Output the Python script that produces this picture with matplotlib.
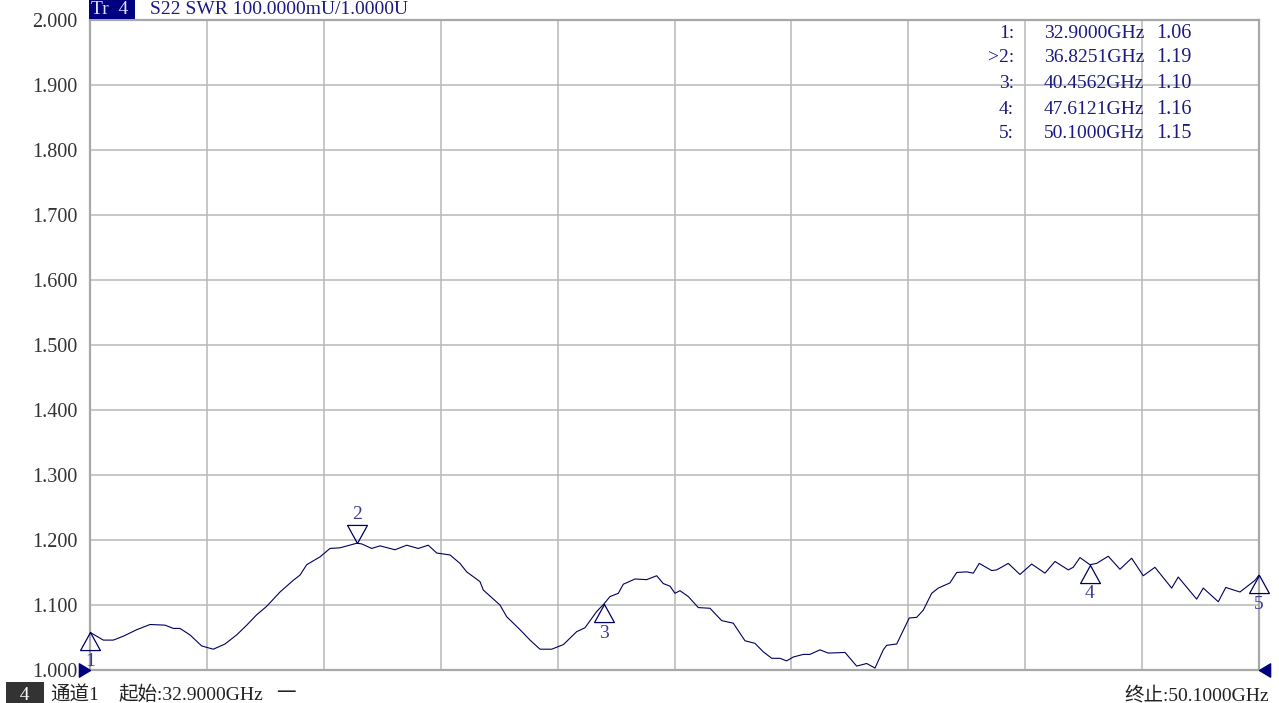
import numpy as np
import matplotlib
matplotlib.use("Agg")
import matplotlib.pyplot as plt
from matplotlib.path import Path

# trace
freq_ghz = [32.900, 33.096, 33.243, 33.390, 33.587, 33.783, 34.003, 34.126, 34.224, 34.371,
            34.543, 34.714, 34.886, 35.058, 35.206, 35.353, 35.500, 35.696, 35.891, 35.990,
            36.088, 36.284, 36.431, 36.578, 36.825, 36.898, 37.045, 37.167, 37.388, 37.560,
            37.730, 37.877, 38.001, 38.197, 38.344, 38.442, 38.638, 38.687, 38.932, 39.031,
            39.227, 39.374, 39.521, 39.693, 39.864, 40.061, 40.183, 40.355, 40.456, 40.551,
            40.673, 40.747, 40.919, 41.091, 41.238, 41.335, 41.434, 41.507, 41.581, 41.703,
            41.850, 42.022, 42.194, 42.365, 42.537, 42.684, 42.806, 42.930, 43.052, 43.150,
            43.248, 43.395, 43.493, 43.640, 43.763, 44.009, 44.180, 44.328, 44.450, 44.572,
            44.622, 44.769, 44.954, 45.063, 45.160, 45.284, 45.381, 45.553, 45.652, 45.799,
            45.896, 45.984, 46.167, 46.240, 46.411, 46.583, 46.755, 46.951, 47.098, 47.294,
            47.367, 47.466, 47.612, 47.711, 47.882, 48.054, 48.226, 48.397, 48.569, 48.815,
            48.912, 49.183, 49.280, 49.501, 49.611, 49.820, 50.042, 50.100]
swr = [1.058, 1.046, 1.046, 1.052, 1.062, 1.070, 1.069, 1.064, 1.064, 1.054,
       1.037, 1.032, 1.040, 1.054, 1.069, 1.085, 1.098, 1.120, 1.138, 1.146,
       1.162, 1.174, 1.187, 1.188, 1.195, 1.194, 1.187, 1.191, 1.185, 1.192,
       1.187, 1.192, 1.180, 1.177, 1.164, 1.151, 1.136, 1.123, 1.100, 1.082,
       1.062, 1.046, 1.032, 1.032, 1.039, 1.059, 1.065, 1.090, 1.101, 1.113,
       1.118, 1.132, 1.140, 1.139, 1.145, 1.133, 1.129, 1.118, 1.122, 1.113,
       1.096, 1.095, 1.076, 1.072, 1.045, 1.041, 1.028, 1.018, 1.018, 1.014,
       1.020, 1.024, 1.024, 1.031, 1.026, 1.027, 1.006, 1.010, 1.003, 1.031,
       1.038, 1.040, 1.080, 1.081, 1.092, 1.118, 1.126, 1.134, 1.150, 1.151,
       1.149, 1.164, 1.153, 1.154, 1.164, 1.147, 1.163, 1.149, 1.167, 1.154,
       1.158, 1.173, 1.162, 1.164, 1.175, 1.155, 1.172, 1.145, 1.158, 1.126,
       1.143, 1.109, 1.126, 1.105, 1.127, 1.120, 1.138, 1.146]

marker_ids = ["1", "2", "3", "4", "5"]
marker_freq = [32.9000, 36.8251, 40.4562, 47.6121, 50.1000]
marker_swr = [1.06, 1.19, 1.10, 1.16, 1.15]
active_marker = "2"

y_ticks = [1.0, 1.1, 1.2, 1.3, 1.4, 1.5, 1.6, 1.7, 1.8, 1.9, 2.0]
x_start, x_stop = 32.9, 50.1

W, H = 1279, 703
NAVY = "#1a1a80"
FONT = ["Liberation Serif", "Noto Sans CJK SC"]
plt.rcParams["font.family"] = FONT


def fx(x):
    return x / W


def fy(y):
    return 1 - y / H


fig = plt.figure(figsize=(W / 100, H / 100), dpi=100)
ax = fig.add_axes([fx(90), fy(670), (1259 - 90) / W, 650 / H])

ax.plot(freq_ghz, swr, color="#000060", lw=0.8, zorder=3)
ax.set_xlim(x_start, x_stop)
ax.set_ylim(1.0, 2.0)
ax.set_xticks(np.linspace(x_start, x_stop, 11))
ax.set_xticklabels([])
ax.set_yticks(y_ticks)
ax.set_yticklabels([f"{v:.3f}" for v in y_ticks], fontsize=14.5, color="#333333")
ax.tick_params(length=0, pad=9)
ax.grid(True, color="#b8b8b8", lw=1.1)
for s in ax.spines.values():
    s.set_color("#a8a8a8")
    s.set_linewidth(1.6)

# marker triangles, apex sitting on the trace
tri_up = Path([(0, 0), (-0.55, -1), (0.55, -1), (0, 0)])
tri_down = Path([(0, 0), (-0.55, 1), (0.55, 1), (0, 0)])
for mid, f in zip(marker_ids, marker_freq):
    y = np.interp(f, freq_ghz, swr)
    up = mid != active_marker
    ax.plot([f], [y], marker=tri_up if up else tri_down, ms=26, mfc="none",
            mec="#000060", mew=0.9, clip_on=False, zorder=4)
    ax.annotate(mid, (f, y), xytext=(0, -21 if up else 21), textcoords="offset points",
                ha="center", va="center", fontsize=14, color="#3a3a9a",
                annotation_clip=False)

# reference level / stop arrows
arrow_r = Path([(0, 0), (-1, 0.6), (-1, -0.6), (0, 0)])
arrow_l = Path([(0, 0), (1, 0.6), (1, -0.6), (0, 0)])
ax.plot([x_start], [1.0], marker=arrow_r, ms=16, color="#000080", clip_on=False, zorder=5)
ax.plot([x_stop], [1.0], marker=arrow_l, ms=16, color="#000080", clip_on=False, zorder=5)

# marker table
row_y = [33, 58, 84, 109, 134]
for mid, f, v, ry in zip(marker_ids, marker_freq, marker_swr, row_y):
    lab = (">" if mid == active_marker else "") + mid + ":"
    fig.text(fx(1014), fy(ry), lab, ha="right", va="center", fontsize=14, color=NAVY)
    fig.text(fx(1144), fy(ry), f"{f:.4f}GHz", ha="right", va="center", fontsize=14, color=NAVY)
    fig.text(fx(1156), fy(ry), f"{v:.2f}", ha="left", va="center", fontsize=14.5, color=NAVY)

# header
fig.text(fx(91), fy(9), "Tr  4 ", ha="left", va="center", fontsize=14, color="#e0e0ff",
         bbox=dict(boxstyle="square,pad=0.1", fc="#000080", ec="none"))
fig.text(fx(150), fy(10), "S22 SWR 100.0000mU/1.0000U", ha="left", va="center",
         fontsize=14, color=NAVY)

# footer
fig.text(fx(10), fy(695), "  4  ", ha="left", va="center", fontsize=14, color="white",
         bbox=dict(boxstyle="square,pad=0.22", fc="#333333", ec="none"))
fig.text(fx(50), fy(695), "通道1", ha="left", va="center", fontsize=14, color="#222222")
fig.text(fx(118), fy(695), "起始:32.9000GHz", ha="left", va="center", fontsize=14, color="#222222")
fig.text(fx(276), fy(695), "一", ha="left", va="center", fontsize=14, color="#222222")
fig.text(fx(1269), fy(695), "终止:50.1000GHz", ha="right", va="center", fontsize=14, color="#222222")

fig.savefig("out.png", dpi=100, facecolor="white")
